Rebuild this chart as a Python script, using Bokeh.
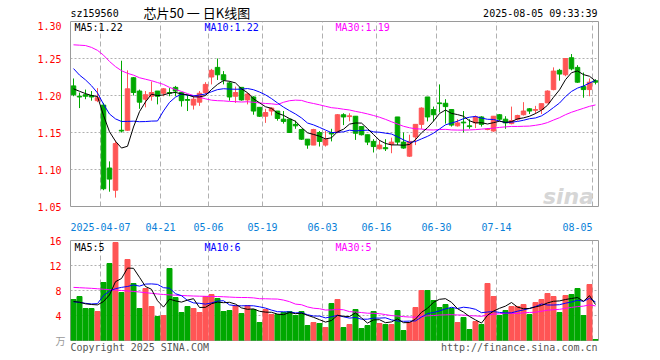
import numpy as np
import pandas as pd
from bokeh.plotting import figure
from bokeh.layouts import column
from bokeh.models import Range1d, FixedTicker, Label, ColumnDataSource, PrintfTickFormatter, LinearAxis
from bokeh.core.properties import value
from bokeh.embed import file_html
from bokeh.resources import INLINE

# ---------------- data ----------------
symbol = "sz159560"
title_text = "芯片50 一 日K线图"
timestamp = "2025-08-05 09:33:39"
copyright_text = "Copyright 2025 SINA.COM"
url_text = "http://finance.sina.com.cn"

dates = ["03-28", "03-31", "04-01", "04-02", "04-03", "04-07", "04-08", "04-09", "04-10", "04-11",
         "04-14", "04-15", "04-16", "04-17", "04-18", "04-21", "04-22", "04-23", "04-24", "04-25",
         "04-28", "04-29", "04-30", "05-06", "05-07", "05-08", "05-09", "05-12", "05-13", "05-14",
         "05-15", "05-16", "05-19", "05-20", "05-21", "05-22", "05-23", "05-26", "05-27", "05-28",
         "05-29", "05-30", "06-03", "06-04", "06-05", "06-06", "06-09", "06-10", "06-11", "06-12",
         "06-13", "06-16", "06-17", "06-18", "06-19", "06-20", "06-23", "06-24", "06-25", "06-26",
         "06-27", "06-30", "07-01", "07-02", "07-03", "07-04", "07-07", "07-08", "07-09", "07-10",
         "07-11", "07-14", "07-15", "07-16", "07-17", "07-18", "07-21", "07-22", "07-23", "07-24",
         "07-25", "07-28", "07-29", "07-30", "07-31", "08-01", "08-04", "08-05"]

opens = [1.213, 1.199, 1.201, 1.200, 1.193, 1.187, 1.102, 1.072, 1.153, 1.153,
         1.224, 1.206, 1.195, 1.199, 1.206, 1.203, 1.204, 1.211, 1.204, 1.1945,
         1.187, 1.191, 1.204, 1.225, 1.238, 1.228, 1.217, 1.199, 1.211, 1.194,
         1.198, 1.184, 1.172, 1.179, 1.179, 1.168, 1.168, 1.161, 1.154, 1.141,
         1.133, 1.150, 1.133, 1.150, 1.150, 1.174, 1.1715, 1.172, 1.158, 1.147,
         1.138, 1.128, 1.1295, 1.134, 1.171, 1.137, 1.118, 1.144, 1.161, 1.198,
         1.181, 1.190, 1.1895, 1.181, 1.159, 1.164, 1.159, 1.163, 1.171, 1.154,
         1.152, 1.174, 1.168, 1.162, 1.168, 1.174, 1.182, 1.180, 1.181, 1.190,
         1.208, 1.234, 1.228, 1.251, 1.238, 1.212, 1.208, 1.220]

highs = [1.223, 1.204, 1.208, 1.206, 1.210, 1.190, 1.111, 1.139, 1.247, 1.234,
         1.225, 1.208, 1.206, 1.219, 1.206, 1.210, 1.210, 1.213, 1.204, 1.201,
         1.200, 1.206, 1.218, 1.236, 1.250, 1.233, 1.219, 1.212, 1.211, 1.204,
         1.199, 1.184, 1.182, 1.184, 1.179, 1.179, 1.168, 1.166, 1.155, 1.141,
         1.155, 1.152, 1.152, 1.155, 1.175, 1.176, 1.176, 1.172, 1.158, 1.147,
         1.141, 1.140, 1.141, 1.143, 1.171, 1.150, 1.147, 1.161, 1.184, 1.198,
         1.185, 1.215, 1.195, 1.181, 1.168, 1.179, 1.168, 1.173, 1.172, 1.156,
         1.172, 1.175, 1.172, 1.185, 1.174, 1.191, 1.183, 1.186, 1.189, 1.207,
         1.238, 1.236, 1.250, 1.256, 1.241, 1.231, 1.223, 1.222]

lows = [1.199, 1.183, 1.195, 1.193, 1.191, 1.072, 1.070, 1.062, 1.150, 1.152,
        1.200, 1.182, 1.184, 1.193, 1.188, 1.199, 1.199, 1.199, 1.185, 1.179,
        1.181, 1.186, 1.201, 1.215, 1.221, 1.215, 1.193, 1.190, 1.193, 1.188,
        1.174, 1.171, 1.163, 1.173, 1.166, 1.162, 1.150, 1.155, 1.140, 1.128,
        1.133, 1.131, 1.131, 1.138, 1.149, 1.160, 1.165, 1.140, 1.146, 1.133,
        1.123, 1.127, 1.125, 1.122, 1.133, 1.128, 1.117, 1.133, 1.155, 1.165,
        1.165, 1.177, 1.162, 1.158, 1.158, 1.150, 1.155, 1.156, 1.158, 1.153,
        1.151, 1.166, 1.155, 1.161, 1.166, 1.173, 1.175, 1.175, 1.175, 1.190,
        1.207, 1.220, 1.226, 1.234, 1.217, 1.197, 1.199, 1.215]

closes = [1.201, 1.198, 1.199, 1.198, 1.197, 1.074, 1.087, 1.135, 1.152, 1.209,
          1.204, 1.191, 1.201, 1.204, 1.199, 1.209, 1.203, 1.206, 1.193, 1.1935,
          1.195, 1.203, 1.215, 1.234, 1.228, 1.221, 1.198, 1.204, 1.194, 1.202,
          1.179, 1.172, 1.177, 1.183, 1.169, 1.165, 1.150, 1.159, 1.141, 1.133,
          1.154, 1.138, 1.141, 1.148, 1.174, 1.171, 1.1725, 1.149, 1.147, 1.137,
          1.131, 1.133, 1.128, 1.137, 1.137, 1.129, 1.138, 1.161, 1.183, 1.171,
          1.174, 1.189, 1.185, 1.160, 1.163, 1.163, 1.158, 1.171, 1.161, 1.1545,
          1.172, 1.168, 1.163, 1.166, 1.173, 1.179, 1.179, 1.181, 1.189, 1.206,
          1.233, 1.229, 1.250, 1.236, 1.218, 1.208, 1.218, 1.218]

# volume (万手)
volumes = [6.56, 7.04, 5.12, 5.12, 4.64, 9.28, 12.32, 15.68, 7.68, 12.96,
           9.12, 5.12, 8.32, 5.44, 3.84, 4.00, 11.52, 6.88, 4.48, 5.44,
           5.12, 4.48, 7.04, 7.36, 6.72, 4.64, 4.80, 5.60, 4.32, 5.60,
           4.96, 2.88, 4.96, 4.16, 4.16, 4.48, 4.64, 4.00, 4.64, 2.40,
           2.88, 2.72, 2.08, 5.92, 6.56, 2.08, 2.56, 4.96, 1.92, 2.40,
           4.64, 2.72, 2.56, 2.56, 4.80, 1.60, 2.88, 5.28, 8.00, 8.00,
           6.40, 5.28, 5.76, 5.12, 2.88, 3.68, 1.76, 3.04, 2.56, 9.12,
           7.04, 4.00, 4.80, 5.44, 5.44, 5.76, 4.16, 6.08, 6.56, 7.52,
           7.04, 4.48, 7.20, 7.36, 8.32, 4.00, 8.96, 0.16]

# moving-average values before enough in-window history exists
ma5_head = [1.209, 1.2057, 1.2026, 1.200]
ma10_head = [1.2364, 1.2276, 1.2211, 1.2132, 1.2035, 1.1882, 1.175, 1.1684, 1.1649]
ma30_head = [1.2685, 1.268, 1.2675, 1.265, 1.261, 1.2545, 1.246, 1.239, 1.2335, 1.230,
             1.2275, 1.224, 1.222, 1.220, 1.2175, 1.215, 1.211, 1.208, 1.2055, 1.2025,
             1.200, 1.1975, 1.1955, 1.1937, 1.193, 1.1927, 1.192, 1.1917, 1.1912]
vma5_head = [6.24, 6.13, 5.87, 5.76]
vma10_head = [6.2, 6.1, 5.95, 5.85, 5.9, 7.2, 7.9, 8.3, 8.5]
vma30_head = [8.5, 8.45, 8.4, 8.35, 8.28, 8.2, 8.13, 8.07, 8.0, 7.93,
              7.85, 7.76, 7.65, 7.55, 7.45, 7.36, 7.3, 7.25, 7.2, 7.16,
              7.12, 7.09, 7.07, 7.05, 7.04, 7.0, 6.95, 6.9, 6.88]

tick_dates = ["04-07", "04-21", "05-06", "05-19", "06-03", "06-16", "06-30", "07-14", "08-05"]
tick_labels = ["2025-04-07", "04-21", "05-06", "05-19", "06-03", "06-16", "06-30", "07-14", "08-05"]
price_ticks = [1.05, 1.10, 1.15, 1.20, 1.25, 1.30]
vol_ticks = [0, 4, 8, 12, 16]
vol_label_ticks = [4, 8, 12, 16]
vol_unit = "万"


def moving_avg(vals, n, head):
    m = pd.Series(vals, dtype=float).rolling(n).mean().to_numpy()
    m[:n - 1] = head
    return m


RED = "#ff5555"
GREEN = "#00a800"
BLUE_TXT = "#0a7fd8"
GRID = "#b0b0b0"
FONT = "DejaVu Sans Mono"
CJK = "Noto Sans CJK SC"
CHAR_W = 6.02  # advance of 10px DejaVu Sans Mono
NBSP = "\u00a0"

n = len(dates)
xs = np.arange(n) + 0.5
o = np.array(opens); c = np.array(closes)
colors = [RED if cc >= oo else GREEN for oo, cc in zip(opens, closes)]

ma5 = moving_avg(closes, 5, ma5_head)
ma10 = moving_avg(closes, 10, ma10_head)
ma30 = moving_avg(closes, 30, ma30_head)
vma5 = moving_avg(volumes, 5, vma5_head)
vma10 = moving_avg(volumes, 10, vma10_head)
vma30 = moving_avg(volumes, 30, vma30_head)

src = ColumnDataSource(dict(x=xs, high=highs, low=lows, top=np.maximum(o, c), bottom=np.minimum(o, c),
                            color=colors, vol=volumes, ma5=ma5, ma10=ma10, ma30=ma30,
                            vma5=vma5, vma10=vma10, vma30=vma30))

tick_pos = [dates.index(d) for d in tick_dates]

FRAME_L, FRAME_R = 70, 598
W = 660


def px2x(px):            # page x -> slot units (6 px per trading day)
    return (px - FRAME_L) / 6.0

def py2y(py):            # main panel: 1.30 at y=21, 1.05 at y=211
    return 1.30 - (py - 21) / 760.0

def vy(py):              # volume panel: 16 at y=240, 0 at y=340
    return (340 - py) / 6.25


def lab(fig, x, y, text, color, size="10px", align="left", font=FONT, style="normal"):
    fig.add_layout(Label(x=x, y=y, text=text, text_color=color, text_font_size=size,
                         text_align=align, text_baseline="middle", text_font=font,
                         text_font_style=style))


def style_fig(fig):
    fig.background_fill_color = "white"
    fig.border_fill_color = "white"
    fig.outline_line_color = "#9a9a9a"
    fig.outline_line_width = 1
    fig.xgrid.ticker = FixedTicker(ticks=tick_pos)
    fig.xgrid.grid_line_color = GRID
    fig.xgrid.grid_line_dash = "5 3"
    fig.ygrid.grid_line_color = GRID
    fig.ygrid.grid_line_dash = "2 2"
    for ax in fig.axis:
        ax.axis_line_color = None
        ax.major_tick_line_color = None
        ax.minor_tick_line_color = None
        ax.major_label_text_font = FONT
        ax.major_label_text_font_size = "10px"


# ---------------- header strip (frame aligned with the panels: x in page pixels) ----------------
hdr = figure(width=W, height=21, x_range=Range1d(FRAME_L, FRAME_R), y_range=Range1d(21, 0),
             output_backend="svg", toolbar_location=None, tools="",
             min_border_left=FRAME_L, min_border_right=W - FRAME_R, min_border_top=0, min_border_bottom=0)
hdr.outline_line_color = None
hdr.axis.visible = False
hdr.grid.visible = False
hdr.background_fill_color = "white"
hdr.border_fill_color = "white"
hdr.text(x=[FRAME_L], y=[13], text=[symbol], text_font=value(FONT), text_font_size="10px",
         text_baseline="middle", text_align="left", text_color="#000000")
hdr.text(x=[143], y=[11.5], text=[title_text], text_font=value(CJK), text_font_size="13px",
         text_baseline="middle", text_align="left", text_color="#000000")
hdr.text(x=[597], y=[13], text=[timestamp], text_font=value(FONT), text_font_size="10px",
         text_baseline="middle", text_align="right", text_color="#000000")

# ---------------- main (price) panel ----------------
p = figure(width=W, height=214, x_range=Range1d(0, n), y_range=Range1d(1.05, 1.30),
           output_backend="svg", toolbar_location=None, tools="",
           min_border_left=FRAME_L, min_border_right=W - FRAME_R, min_border_top=0, min_border_bottom=24)
style_fig(p)
p.ygrid.ticker = FixedTicker(ticks=price_ticks)
p.yaxis.ticker = FixedTicker(ticks=price_ticks)
p.yaxis.formatter = PrintfTickFormatter(format="%.2f")
p.yaxis.major_label_text_color = "#ff0000"
p.yaxis.major_label_standoff = 3
p.xaxis.ticker = FixedTicker(ticks=tick_pos)
overrides = {pos: lbl for pos, lbl in zip(tick_pos, tick_labels)}
# last date label sits to the left of its grid line (padding keeps it inside the frame)
overrides[tick_pos[-1]] = tick_labels[-1] + NBSP * len(tick_labels[-1])
p.xaxis.major_label_overrides = overrides
p.xaxis.major_label_text_color = BLUE_TXT
p.xaxis.major_label_standoff = 9

p.segment(x0="x", y0="low", x1="x", y1="high", line_color="color", line_width=1, source=src)
p.vbar(x="x", width=0.75, top="top", bottom="bottom", fill_color="color", line_color="color",
       line_width=1, source=src)
p.line("x", "ma30", line_color="#ff00ff", line_width=1, source=src)
p.line("x", "ma10", line_color="#0000ff", line_width=1, source=src)
p.line("x", "ma5", line_color="#000000", line_width=1, source=src)

lab(p, px2x(74), py2y(27), "MA5:%.2f" % ma5[-1], "#000000")
lab(p, px2x(204), py2y(27), "MA10:%.2f" % ma10[-1], "#0000ff")
lab(p, px2x(335), py2y(27), "MA30:%.2f" % ma30[-1], "#ff00ff")
lab(p, px2x(568), py2y(201), "sina", "#d6d6d6", size="22px", align="center",
    font="DejaVu Sans", style="bold italic")

# ---------------- volume panel ----------------
p2 = figure(width=W, height=125, x_range=p.x_range, y_range=Range1d(0, 16),
            output_backend="svg", toolbar_location=None, tools="",
            min_border_left=FRAME_L, min_border_right=W - FRAME_R, min_border_top=5, min_border_bottom=20)
p2.ygrid.ticker = FixedTicker(ticks=vol_ticks)
p2.yaxis.ticker = FixedTicker(ticks=vol_label_ticks)
p2.yaxis.major_label_text_color = "#ff0000"
p2.yaxis.major_label_standoff = 3
# unit marker at the zero line
unit_axis = LinearAxis(ticker=FixedTicker(ticks=[0]), major_label_overrides={0: vol_unit},
                       major_label_text_color="#999999", major_label_standoff=-25)
p2.add_layout(unit_axis, "left")
# footer texts along the bottom edge
foot_left_c = px2x(FRAME_L + len(copyright_text) * CHAR_W / 2)
foot_right_c = px2x(597 - len(url_text) * CHAR_W / 2)
p2.xaxis.ticker = FixedTicker(ticks=[foot_left_c, foot_right_c])
p2.xaxis.major_label_overrides = {foot_left_c: copyright_text, foot_right_c: url_text}
p2.xaxis.major_label_text_color = "#555555"
p2.xaxis.major_label_standoff = -5
style_fig(p2)
unit_axis.major_label_text_font = CJK

p2.vbar(x="x", width=0.83, top="vol", bottom=0, fill_color="color", line_color="color", source=src)
p2.line("x", "vma30", line_color="#ff00ff", line_width=1, source=src)
p2.line("x", "vma10", line_color="#0000ff", line_width=1, source=src)
p2.line("x", "vma5", line_color="#000000", line_width=1, source=src)

lab(p2, px2x(74), vy(247), "MA5:%d" % int(vma5[-1]), "#000000")
lab(p2, px2x(204), vy(247), "MA10:%d" % int(vma10[-1]), "#0000ff")
lab(p2, px2x(335), vy(247), "MA30:%d" % int(vma30[-1]), "#ff00ff")

layout = column(hdr, p, p2)
open("out.html", "w").write(file_html(layout, INLINE))
